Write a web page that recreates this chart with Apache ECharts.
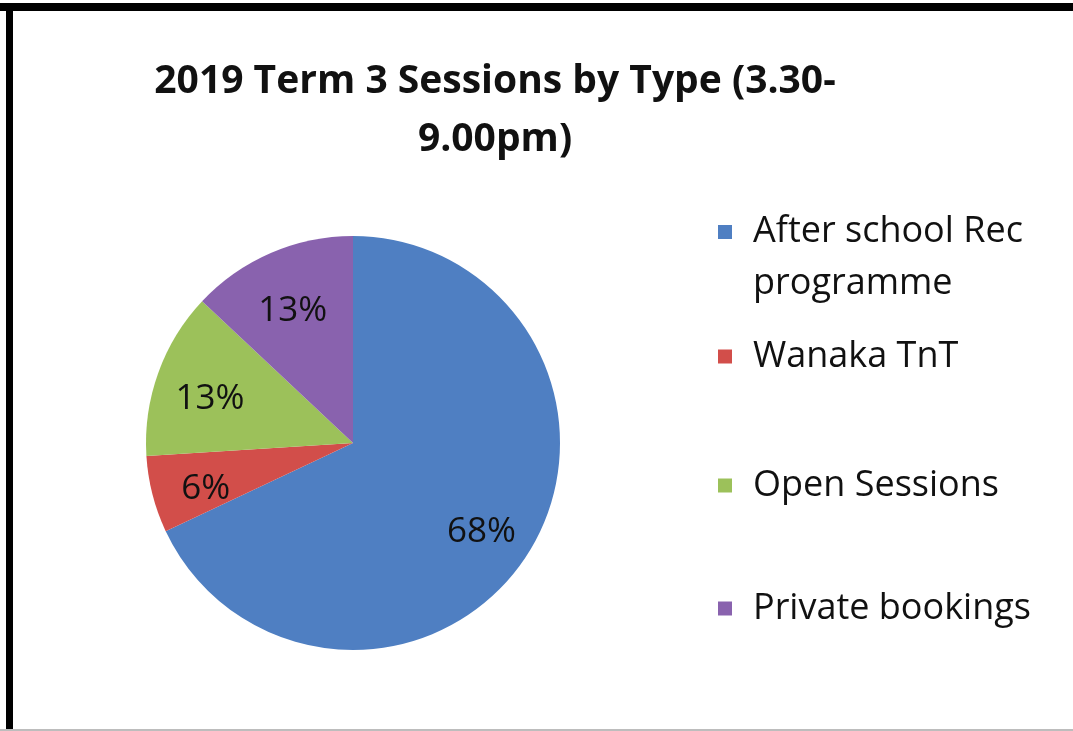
<!DOCTYPE html>
<html>
<head>
<meta charset="utf-8">
<script src="https://cdn.jsdelivr.net/npm/echarts@6/dist/echarts.min.js"></script>
<style>
  html, body { margin: 0; padding: 0; background: #ffffff; }
  #chart { width: 1073px; height: 731px; }
</style>
</head>
<body>
<div id="chart"></div>
<script>
// Session types and their share of Term 3 sessions (percent)
const sessionTypes = ['After school Rec programme', 'Wanaka TnT', 'Open Sessions', 'Private bookings'];
const sessionShares = [68, 6, 13, 13];
const sliceColors = ['#4F7FC2', '#D24E4A', '#9CC15A', '#8962AE'];

// Legend label text; the leading blank line keeps the swatch beside the first line
const legendLabels = {
  'After school Rec programme': '\nAfter school Rec\nprogramme',
  'Wanaka TnT': 'Wanaka TnT',
  'Open Sessions': 'Open Sessions',
  'Private bookings': 'Private bookings'
};
// Vertical position and line height of each legend entry
const legendTops = [154, 335, 464, 587];
const legendLineHeights = [52, 43, 43, 43];

const FONT = '"Open Sans", "Noto Sans", sans-serif';
const pieCenter = [353, 443];
const pieRadius = 207;

const pieData = sessionTypes.map((name, i) => ({
  name: name,
  value: sessionShares[i],
  itemStyle: { color: sliceColors[i] }
}));

const chart = echarts.init(document.getElementById('chart'), null, { renderer: 'canvas' });

const legends = sessionTypes.map((name, i) => ({
  data: [name],
  orient: 'vertical',
  left: 718,
  top: legendTops[i],
  padding: 0,
  icon: 'rect',
  itemWidth: 14,
  itemHeight: 14,
  selectedMode: false,
  formatter: n => legendLabels[n],
  textStyle: {
    fontFamily: FONT,
    fontSize: 36,
    color: '#111111',
    lineHeight: legendLineHeights[i],
    padding: [0, 0, 0, 16]
  }
}));

chart.setOption({
  backgroundColor: '#ffffff',
  animation: false,
  title: {
    text: '2019 Term 3 Sessions by Type (3.30-\n9.00pm)',
    left: 490,
    top: 48,
    textAlign: 'center',
    textStyle: {
      fontFamily: FONT,
      fontWeight: 'bold',
      fontSize: 39,
      lineHeight: 58,
      color: '#111111'
    }
  },
  legend: legends,
  series: [
    {
      type: 'pie',
      center: pieCenter,
      radius: [0, pieRadius],
      startAngle: 90,
      clockwise: true,
      silent: true,
      label: { show: false },
      labelLine: { show: false },
      itemStyle: { borderWidth: 0 },
      data: pieData
    },
    {
      // label ring: places each percentage about 72% of the way out
      type: 'pie',
      center: pieCenter,
      radius: [pieRadius * 0.44, pieRadius],
      startAngle: 90,
      clockwise: true,
      silent: true,
      legendHoverLink: false,
      itemStyle: { color: 'rgba(0,0,0,0)', borderWidth: 0 },
      label: {
        show: true,
        position: 'inside',
        offset: [0, 8],
        formatter: p => p.value + '%',
        fontFamily: FONT,
        fontSize: 35,
        color: '#111111'
      },
      labelLine: { show: false },
      data: sessionTypes.map((name, i) => ({ name: name, value: sessionShares[i] }))
    }
  ],
  graphic: [
    // frame: heavy top and left rules, thin grey base line
    { type: 'rect', left: 0, top: 3, shape: { width: 1073, height: 8 }, style: { fill: '#000000' }, silent: true },
    { type: 'rect', left: 6, top: 3, shape: { width: 7, height: 728 }, style: { fill: '#000000' }, silent: true },
    { type: 'rect', left: 0, top: 729, shape: { width: 1073, height: 2 }, style: { fill: '#bdbdbd' }, silent: true }
  ]
});
</script>
</body>
</html>
